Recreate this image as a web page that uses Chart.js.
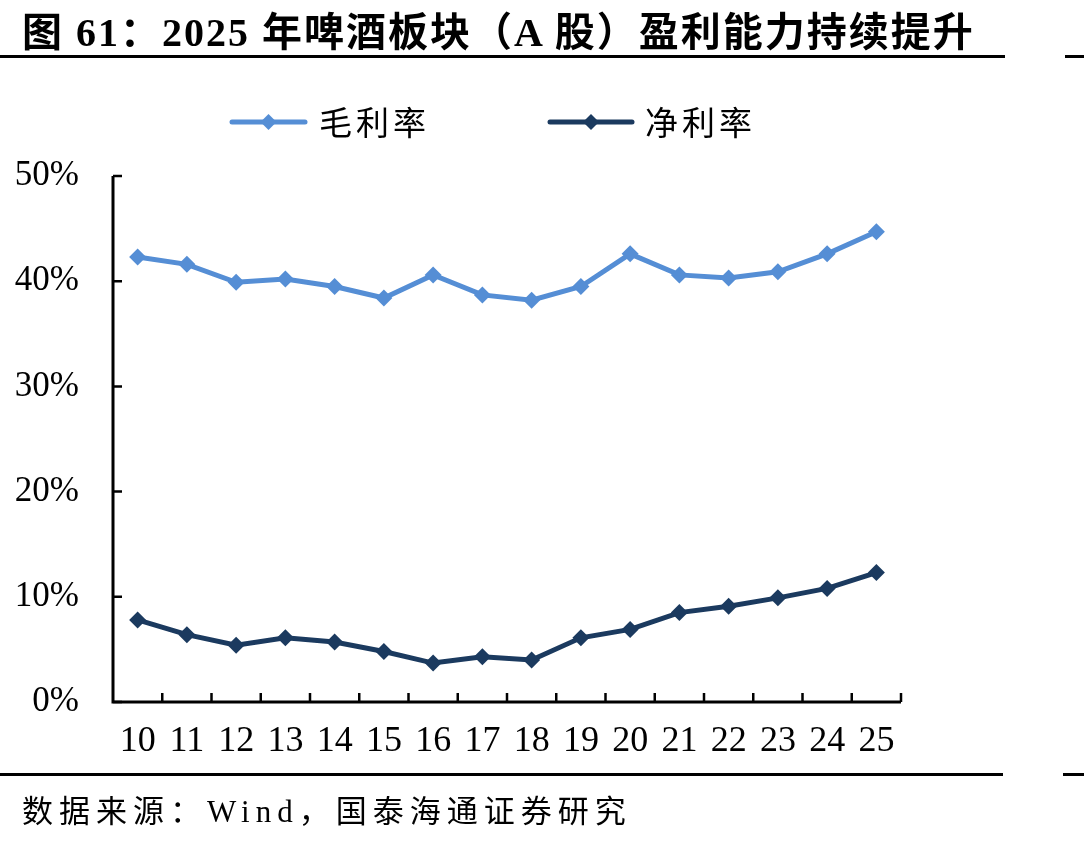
<!DOCTYPE html>
<html>
<head>
<meta charset="utf-8">
<script src="https://cdn.jsdelivr.net/npm/chart.js@4.4.1/dist/chart.umd.min.js"></script>
<style>
  html, body { margin: 0; padding: 0; background: #fff; }
  #wrap { position: relative; width: 1084px; height: 844px; overflow: hidden; }
  #chart { position: absolute; left: 0; top: 0; }
  .title { position: absolute; left: 22px; top: 0px; font: bold 40px "Liberation Serif", "Noto Sans CJK SC"; color: #000; white-space: nowrap; letter-spacing: 2px; }
  .rule { position: absolute; height: 3px; background: #000; }
  .source { position: absolute; left: 22px; top: 786px; font: 31px "Liberation Serif", "Noto Sans CJK SC"; color: #000; white-space: nowrap; letter-spacing: 6px; }
</style>
</head>
<body>
<div id="wrap">
  <canvas id="chart" width="1084" height="844"></canvas>
  <div class="title">图 61：2025 年啤酒板块（A 股）盈利能力持续提升</div>
  <div class="rule" style="left:0;top:55px;width:1005px"></div>
  <div class="rule" style="left:1065px;top:55px;width:19px"></div>
  <div class="rule" style="left:0;top:773px;width:1003px"></div>
  <div class="rule" style="left:1063px;top:773px;width:21px"></div>
  <div class="source">数据来源：Wind，国泰海通证券研究</div>
</div>
<script>
// data
const years = ['10', '11', '12', '13', '14', '15', '16', '17', '18', '19', '20', '21', '22', '23', '24', '25'];
const grossMargin = [42.3, 41.6, 39.9, 40.2, 39.5, 38.4, 40.6, 38.7, 38.2, 39.5, 42.6, 40.6, 40.3, 40.9, 42.6, 44.7];
const netMargin = [7.8, 6.4, 5.4, 6.1, 5.7, 4.8, 3.7, 4.3, 4.0, 6.1, 6.9, 8.5, 9.1, 9.9, 10.8, 12.3];
const seriesNames = ['毛利率', '净利率'];

const lightBlue = '#558ed5';
const darkBlue = '#1b3a5f';
const tickFont = { family: '"Liberation Serif", "Times New Roman", serif', size: 36 };

// Excel-like axes: black lines with inward ticks at category boundaries
const axesPlugin = {
  id: 'axes',
  afterDatasetsDraw(c) {
    const { ctx, chartArea: a, scales: { y } } = c;
    ctx.save();
    ctx.strokeStyle = '#000';
    ctx.lineWidth = 3;
    ctx.beginPath();
    ctx.moveTo(a.left, a.top);
    ctx.lineTo(a.left, a.bottom);
    ctx.lineTo(a.right, a.bottom);
    ctx.stroke();
    ctx.lineWidth = 2.5;
    ctx.beginPath();
    y.ticks.forEach((t) => {
      const py = y.getPixelForValue(t.value);
      ctx.moveTo(a.left, py);
      ctx.lineTo(a.left + 9, py);
    });
    const step = (a.right - a.left) / years.length;
    for (let i = 1; i <= years.length; i++) {
      const px = a.left + step * i;
      ctx.moveTo(px, a.bottom);
      ctx.lineTo(px, a.bottom - 9);
    }
    ctx.stroke();
    ctx.restore();
  }
};

// legend with line + diamond sample
const legendPlugin = {
  id: 'lineLegend',
  afterDraw(c) {
    const { ctx } = c;
    const items = [
      { x0: 232, x1: 305, tx: 319, ds: c.data.datasets[0] },
      { x0: 550, x1: 632, tx: 645, ds: c.data.datasets[1] }
    ];
    ctx.save();
    items.forEach((it) => {
      const yy = 122;
      ctx.strokeStyle = it.ds.borderColor;
      ctx.lineWidth = 5;
      ctx.lineCap = 'round';
      ctx.beginPath();
      ctx.moveTo(it.x0, yy);
      ctx.lineTo(it.x1, yy);
      ctx.stroke();
      const mx = (it.x0 + it.x1) / 2;
      ctx.fillStyle = it.ds.borderColor;
      ctx.beginPath();
      ctx.moveTo(mx, yy - 8);
      ctx.lineTo(mx + 8, yy);
      ctx.lineTo(mx, yy + 8);
      ctx.lineTo(mx - 8, yy);
      ctx.closePath();
      ctx.fill();
      ctx.fillStyle = '#000';
      ctx.font = '33px "Noto Sans CJK SC"';
      ctx.textBaseline = 'middle';
      ctx.letterSpacing = '4px';
      ctx.fillText(it.ds.label, it.tx, yy);
    });
    ctx.restore();
  }
};

new Chart(document.getElementById('chart'), {
  type: 'line',
  data: {
    labels: years,
    datasets: [{
      label: seriesNames[0],
      data: grossMargin,
      borderColor: lightBlue,
      backgroundColor: lightBlue,
      borderWidth: 5,
      pointStyle: 'rectRot',
      pointRadius: 8.5,
      pointBorderWidth: 0,
      tension: 0
    }, {
      label: seriesNames[1],
      data: netMargin,
      borderColor: darkBlue,
      backgroundColor: darkBlue,
      borderWidth: 5,
      pointStyle: 'rectRot',
      pointRadius: 8.5,
      pointBorderWidth: 0,
      tension: 0
    }]
  },
  options: {
    responsive: false,
    animation: false,
    devicePixelRatio: 1,
    layout: { padding: { left: 0, right: 183, top: 176, bottom: 0 } },
    plugins: { legend: { display: false }, tooltip: { enabled: false } },
    scales: {
      x: {
        offset: true,
        grid: { display: false },
        border: { display: false },
        ticks: { color: '#000', font: tickFont, padding: 10, maxRotation: 0, autoSkip: false },
        afterFit: (s) => { s.height = 142; }
      },
      y: {
        min: 0,
        max: 50,
        grid: { display: false },
        border: { display: false },
        ticks: { stepSize: 10, color: '#000', font: { family: tickFont.family, size: 35 }, padding: 26, callback: (v) => v + '%' },
        afterFit: (s) => { s.width = 113; }
      }
    }
  },
  plugins: [axesPlugin, legendPlugin]
});
</script>
</body>
</html>
